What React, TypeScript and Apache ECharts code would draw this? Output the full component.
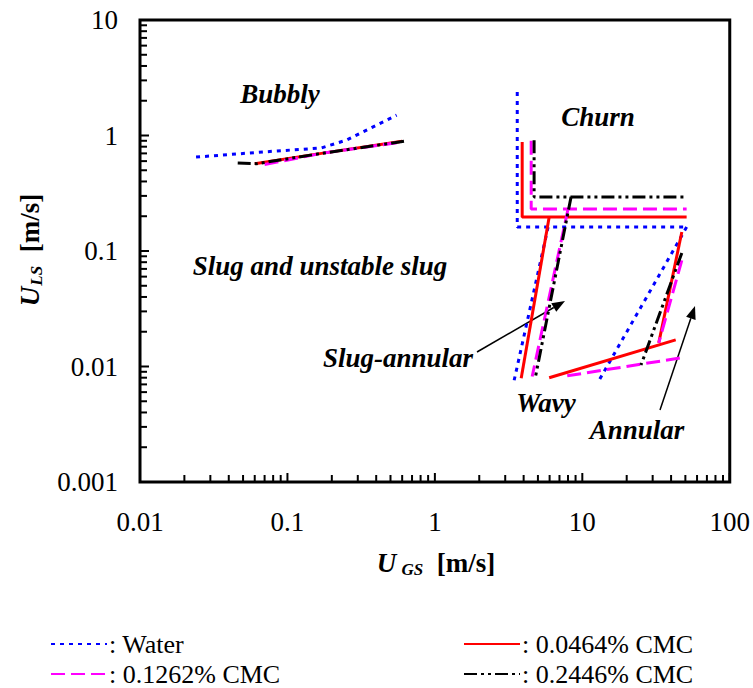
import React, { useEffect, useRef } from "react";
import * as echarts from "echarts";

const FONT = "'Liberation Serif', 'Times New Roman', serif";

// Legend names
const NAMES = ["Water", "0.0464% CMC", "0.1262% CMC", "0.2446% CMC"];

// Bubbly -> slug boundary
const waterBubbly = [[0.024, 0.65], [0.068, 0.72], [0.17, 0.78], [0.25, 0.91], [0.55, 1.5]];
const redBubbly = [[0.06, 0.57], [0.17, 0.7], [0.6, 0.89]];
const magentaBubbly = [[0.07, 0.56], [0.17, 0.7], [0.6, 0.88]];
const blackBubbly = [[0.046, 0.578], [0.062, 0.57], [0.17, 0.7], [0.65, 0.9]];

// Churn boundary (vertical then horizontal)
const waterChurn = [[3.62, 2.38], [3.62, 0.161], [51, 0.161]];
const redChurn = [[3.91, 0.88], [3.91, 0.197], [51, 0.197]];
const magentaChurn = [[4.5, 0.9], [4.5, 0.231], [51, 0.231]];
const blackChurn = [[4.71, 0.91], [4.71, 0.294], [50, 0.294]];

// Slug -> slug-annular boundary
const waterSlugAnnular = [[5.86, 0.161], [3.45, 0.0076]];
const redSlugAnnular = [[5.96, 0.197], [3.85, 0.0079]];
const magentaSlugAnnular = [[8.0, 0.231], [4.57, 0.0082]];
const blackSlugAnnular = [[8.39, 0.294], [4.8, 0.008]];

// Annular boundary
const waterAnnular = [[51, 0.161], [13, 0.0076]];
const redAnnular = [[47.3, 0.146], [33, 0.016]];
const magentaAnnular = [[47.3, 0.083], [33, 0.016]];
const blackAnnular = [[47.3, 0.096], [25, 0.0103]];

// Wavy boundary
const redWavy = [[5.96, 0.008], [43, 0.017]];
const magentaWavy = [[7.9, 0.0083], [49, 0.012]];

// Axis ticks
const X_DECADES = [0.01, 0.1, 1, 10];
const Y_DECADES = [0.001, 0.01, 0.1, 1];
const MULTS = [1, 2, 3, 4, 5, 6, 7, 8, 9];
const X_MAX = 100;
const Y_MAX = 10;

const STYLES: Record<string, any> = {
  Water: { color: "#0000ff", width: 3, type: [4, 5] },
  "0.0464% CMC": { color: "#ff0000", width: 3, type: "solid" },
  "0.1262% CMC": { color: "#ff00ff", width: 3, type: [14, 6] },
  "0.2446% CMC": { color: "#000000", width: 3, type: [13, 4, 3, 4, 3, 4] },
};

const SEGMENTS: [string, number[][]][] = [
  ["Water", waterBubbly],
  ["Water", waterChurn],
  ["Water", waterSlugAnnular],
  ["Water", waterAnnular],
  ["0.0464% CMC", redBubbly],
  ["0.0464% CMC", redChurn],
  ["0.0464% CMC", redSlugAnnular],
  ["0.0464% CMC", redAnnular],
  ["0.0464% CMC", redWavy],
  ["0.1262% CMC", magentaBubbly],
  ["0.1262% CMC", magentaChurn],
  ["0.1262% CMC", magentaSlugAnnular],
  ["0.1262% CMC", magentaAnnular],
  ["0.1262% CMC", magentaWavy],
  ["0.2446% CMC", blackBubbly],
  ["0.2446% CMC", blackChurn],
  ["0.2446% CMC", blackSlugAnnular],
  ["0.2446% CMC", blackAnnular],
];

function fmt(v: number) {
  return String(Number(v.toPrecision(1)));
}

export default function App() {
  const ref = useRef<HTMLDivElement>(null);
  useEffect(() => {
    if (!ref.current) return;
    const chart = echarts.init(ref.current, undefined, { renderer: "svg" });

    const tickData: number[][] = [];
    X_DECADES.forEach((d) => MULTS.forEach((m) => tickData.push([d * m, 0.001, 0, m === 1 ? 1 : 0])));
    tickData.push([X_MAX, 0.001, 0, 1]);
    Y_DECADES.forEach((d) => MULTS.forEach((m) => tickData.push([0.01, d * m, 1, m === 1 ? 1 : 0])));
    tickData.push([0.01, Y_MAX, 1, 1]);

    const lineSeries = SEGMENTS.map(([name, data]) => ({
      type: "line",
      name,
      data,
      showSymbol: false,
      symbol: "none",
      lineStyle: { ...STYLES[name], cap: "butt" },
      itemStyle: { color: STYLES[name].color },
      silent: true,
    }));

    const legendPos: [string, number, number][] = [
      ["Water", 45, 626],
      ["0.0464% CMC", 458, 626],
      ["0.1262% CMC", 45, 656],
      ["0.2446% CMC", 458, 656],
    ];

    const arrow = (x1: number, y1: number, x2: number, y2: number) => {
      const dx = x2 - x1, dy = y2 - y1;
      const L = Math.hypot(dx, dy);
      const ux = dx / L, uy = dy / L;
      const bx = x2 - 13 * ux, by = y2 - 13 * uy;
      const px = -uy * 5, py = ux * 5;
      return [
        { type: "line", shape: { x1, y1, x2: bx, y2: by }, style: { stroke: "#000", lineWidth: 1.5 } },
        { type: "polygon", shape: { points: [[x2, y2], [bx + px, by + py], [bx - px, by - py]] }, style: { fill: "#000" } },
      ];
    };

    const regionText = (text: string, x: number, y: number) => ({
      type: "text",
      x,
      y,
      style: {
        text,
        fontFamily: FONT,
        fontSize: 27,
        fontWeight: "bold",
        fontStyle: "italic",
        fill: "#000",
        align: "center",
        verticalAlign: "middle",
      },
    });

    const titleRich = {
      u: { fontFamily: FONT, fontSize: 27, fontWeight: "bold", fontStyle: "italic", fill: "#000", color: "#000" },
      s: { fontFamily: FONT, fontSize: 17, fontWeight: "bold", fontStyle: "italic", fill: "#000", color: "#000", verticalAlign: "bottom", padding: [12, 0, 0, 1] },
      b: { fontFamily: FONT, fontSize: 27, fontWeight: "bold", fill: "#000", color: "#000" },
    };

    chart.setOption({
      animation: false,
      grid: { left: 140, top: 20, width: 591, height: 462, show: true, borderColor: "#000", borderWidth: 3, backgroundColor: "transparent" },
      xAxis: {
        type: "log",
        logBase: 10,
        min: 0.01,
        max: X_MAX,
        axisLine: { show: false },
        axisTick: { show: false },
        splitLine: { show: false },
        axisLabel: { fontFamily: FONT, fontSize: 27, color: "#000", margin: 26, formatter: fmt },
      },
      yAxis: {
        type: "log",
        logBase: 10,
        min: 0.001,
        max: Y_MAX,
        axisLine: { show: false },
        axisTick: { show: false },
        splitLine: { show: false },
        axisLabel: { fontFamily: FONT, fontSize: 27, color: "#000", margin: 22, formatter: fmt },
      },
      legend: legendPos.map(([name, left, top]) => ({
        data: [name],
        left,
        top,
        itemWidth: 56,
        itemHeight: 14,
        selectedMode: false,
        formatter: ": {name}",
        itemStyle: { opacity: 0, borderWidth: 0 },
        textStyle: { fontFamily: FONT, fontSize: 26, lineHeight: 26, color: "#000", padding: [0, 0, 0, -3] },
      })),
      series: [
        ...lineSeries,
        {
          type: "custom",
          name: "ticks",
          silent: true,
          clip: false,
          data: tickData,
          renderItem: (params: any, api: any) => {
            const p = api.coord([api.value(0), api.value(1)]);
            const isY = api.value(2) === 1;
            const len = api.value(3) === 1 ? 9 : 7;
            return {
              type: "line",
              shape: isY
                ? { x1: p[0], y1: p[1], x2: p[0] + len, y2: p[1] }
                : { x1: p[0], y1: p[1], x2: p[0], y2: p[1] - len },
              style: { stroke: "#000", lineWidth: 2 },
            };
          },
        },
      ],
      graphic: [
        regionText("Bubbly", 280, 94),
        regionText("Churn", 598, 117),
        regionText("Slug and unstable slug", 320, 266),
        regionText("Slug-annular", 398, 358),
        regionText("Wavy", 546, 403),
        regionText("Annular", 637, 430),
        ...arrow(477, 352, 565, 301),
        ...arrow(660, 410, 695, 306),
        {
          type: "text",
          x: 436,
          y: 563,
          style: { text: "{u|U}{s| GS}{b|  [m/s]}", rich: titleRich, align: "center", verticalAlign: "middle" },
        },
        {
          type: "text",
          x: 30,
          y: 250,
          rotation: Math.PI / 2,
          style: { text: "{u|U}{s|LS}{b|  [m/s]}", rich: titleRich, align: "center", verticalAlign: "middle" },
        },
      ],
    });
    return () => chart.dispose();
  }, []);
  return (
    <div
      ref={ref}
      style={{ position: "absolute", left: 0, top: 0, width: 753, height: 688, background: "#fff" }}
    />
  );
}
